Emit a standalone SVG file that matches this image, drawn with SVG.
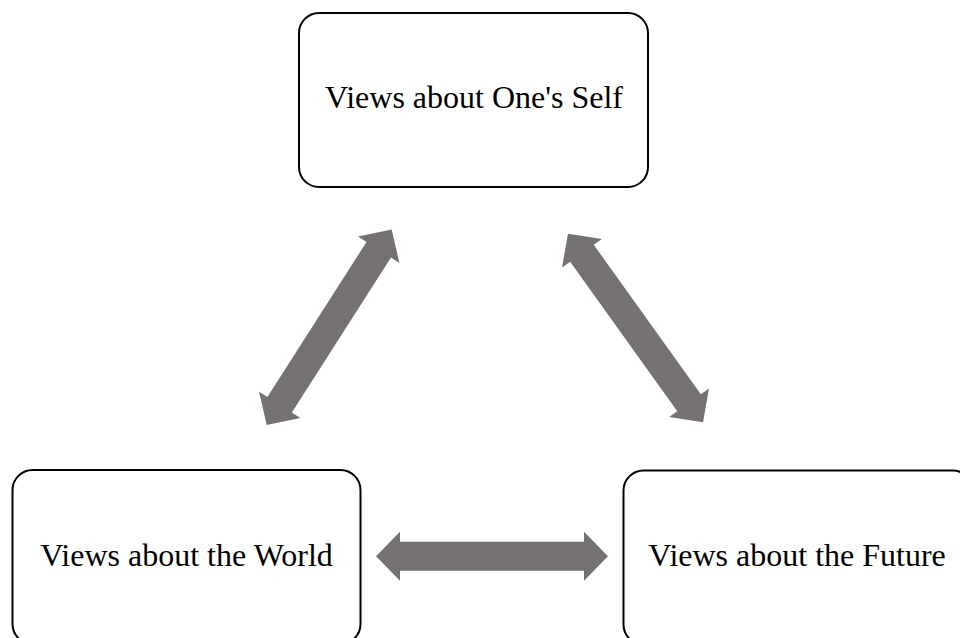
<svg xmlns="http://www.w3.org/2000/svg" xmlns:xlink="http://www.w3.org/1999/xlink" width="960" height="638" viewBox="0 0 960 638">
  <style>
    .box { fill: #ffffff; stroke: #000000; stroke-width: 2; }
    .label { font-family: "Liberation Serif", "Times New Roman", serif; font-size: 32px; fill: #000000; text-anchor: middle; }
    .arrow { fill: #767171; stroke: none; }
  </style>
  <defs>
    <polygon id="dblArrow" class="arrow" points="-116,0 -92,-24.5 -92,-14.5 92,-14.5 92,-24.5 116,0 92,24.5 92,14.5 -92,14.5 -92,24.5"/>
  </defs>
  <rect width="960" height="638" fill="#ffffff"/>
  <g id="connectors">
    <use xlink:href="#dblArrow" href="#dblArrow" transform="translate(329.2,327.2) rotate(-57.4)"/>
    <use xlink:href="#dblArrow" href="#dblArrow" transform="translate(635.5,328) rotate(54.4)"/>
    <use xlink:href="#dblArrow" href="#dblArrow" transform="translate(492,556.3)"/>
  </g>
  <g id="node-self">
    <rect class="box" x="299" y="13" width="349" height="174" rx="20" ry="20"/>
    <text class="label" x="474" y="108">Views about One's Self</text>
  </g>
  <g id="node-world">
    <rect class="box" x="12.5" y="470" width="348" height="174" rx="20" ry="20"/>
    <text class="label" x="186.5" y="566">Views about the World</text>
  </g>
  <g id="node-future">
    <rect class="box" x="623.5" y="470.5" width="349" height="174" rx="20" ry="20"/>
    <text class="label" x="797" y="566">Views about the Future</text>
  </g>
</svg>
